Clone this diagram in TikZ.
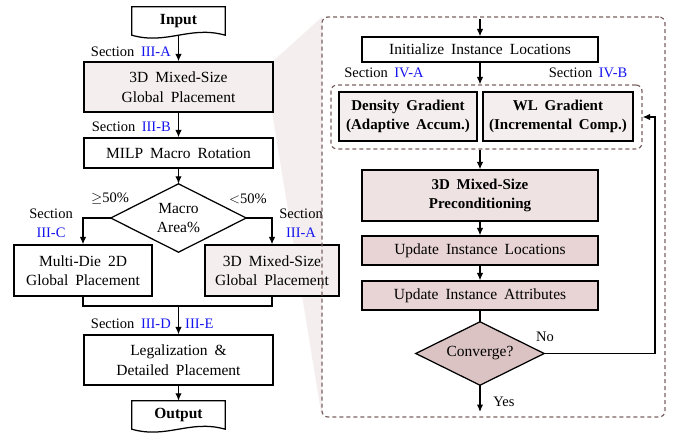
\documentclass[tikz,border=0pt]{standalone}
\usepackage{fontspec}
\setmainfont{Liberation Serif}[WordSpace=1.8]
\usetikzlibrary{arrows.meta,calc}
\definecolor{pkA}{HTML}{F4EEEE}
\definecolor{pkB}{HTML}{EEE2E2}
\definecolor{pkC}{HTML}{E8D4D4}
\definecolor{pkD}{HTML}{DBC3C3}
\definecolor{dashc}{HTML}{7B6262}
\definecolor{secb}{HTML}{1414F0}
\newcommand{\sref}[1]{\textcolor{secb}{#1}}
\begin{document}
\begin{tikzpicture}[x=1pt,y=-1pt,
  font=\fontsize{15.5}{19.5}\selectfont,
  box/.style={draw,line width=1.25pt,align=center,inner sep=0pt},
  bf/.style={font=\fontsize{15}{19.5}\selectfont\bfseries},
  lbl/.style={font=\fontsize{14.5}{19}\selectfont,inner sep=0pt,align=center},
  arr/.style={line width=1.25pt,-{Latex[length=7.5pt,width=6.5pt]}},
  ln/.style={line width=1.25pt},
  dbox/.style={draw=dashc,line width=1.2pt,dash pattern=on 4pt off 3pt,rounded corners=6pt,inner sep=0pt}]
\useasboundingbox (0,0) rectangle (678,437);
% zoom shading
\fill[pkA] (272,62) -- (322,17) -- (322,418) -- (272,112) -- cycle;

% ---------- left flow ----------
\node[minimum width=93pt,minimum height=28pt,inner sep=0pt,font=\fontsize{15.5}{19.5}\selectfont\bfseries] (in) at (178.5,21) {Input};
\draw[ln] (in.north west) -- (in.north east) -- (in.south east)
  .. controls +(-35,-10) and +(35,10) .. (in.south west) -- cycle;
\node[box,fill=pkA,minimum width=189pt,minimum height=50pt] (gp1) at (178.5,87) {3D Mixed-Size\\Global Placement};
\node[box,minimum width=189pt,minimum height=30pt] (milp) at (178.5,153) {MILP Macro Rotation};
\node[minimum width=135pt,minimum height=68pt,inner sep=0pt,align=center] (macro) at (178.5,218) {Macro\\Area\%};
\draw[ln] (macro.north) -- (macro.east) -- (macro.south) -- (macro.west) -- cycle;
\node[box,minimum width=138pt,minimum height=51pt] (mdie) at (83,270.5) {Multi-Die 2D\\Global Placement};
\node[box,fill=pkA,minimum width=134pt,minimum height=51pt] (gp2) at (272,270.5) {3D Mixed-Size\\Global Placement};
\node[box,minimum width=189pt,minimum height=50pt] (leg) at (178.5,360) {Legalization \&\\Detailed Placement};
\node[minimum width=93pt,minimum height=28pt,inner sep=0pt,font=\fontsize{15.5}{19.5}\selectfont\bfseries] (out) at (178.5,415) {Output};
\draw[ln] (out.north west) -- (out.north east) -- (out.south east)
  .. controls +(-35,-10) and +(35,10) .. (out.south west) -- cycle;
\coordinate (m) at (178.5,306);

\draw[arr] (in.south) -- (gp1.north);
\draw[arr] (gp1.south) -- (milp.north);
\draw[arr] (milp.south) -- (macro.north);
\draw[arr] (macro.west) -| (mdie.north);
\draw[arr] (macro.east) -| (gp2.north);
\draw[ln] (mdie.south) |- (m) -| (gp2.south);
\draw[arr] (m) -- (leg.north);
\draw[arr] (leg.south) -- (out.north);

\node[lbl,anchor=east] (l1) at (171,52) {Section \sref{III-A}};
\node[lbl,anchor=east] (l2) at (171,127) {Section \sref{III-B}};
\node[lbl] (l3) at (110,199) {$\geq$50\%};
\node[lbl] (l4) at (248,199) {$<$50\%};
\node[lbl] (l5) at (51,223) {Section\\\sref{III-C}};
\node[lbl] (l6) at (301,223) {Section\\\sref{III-A}};
\node[lbl,anchor=east] (l7) at (171,324) {Section \sref{III-D}};
\node[lbl,anchor=west] (l8) at (185,324) {\sref{III-E}};

% ---------- right panel ----------
\node[dbox,minimum width=343pt,minimum height=400pt] (panel) at (493.5,217) {};
\coordinate (ptop) at (480,19);
\node[box,minimum width=236pt,minimum height=25pt] (init) at (480,49.5) {Initialize Instance Locations};
\node[dbox,minimum width=311pt,minimum height=64pt] (grad) at (486.5,117) {};
\node[box,fill=pkA,minimum width=138pt,minimum height=49pt,bf] (dens) at (408,116.5) {Density Gradient\\(Adaptive Accum.)};
\node[box,fill=pkA,minimum width=150pt,minimum height=49pt,bf] (wl) at (558,116.5) {WL Gradient\\(Incremental Comp.)};
\node[box,fill=pkB,minimum width=236pt,minimum height=51pt,bf] (prec) at (480,195.5) {3D Mixed-Size\\Preconditioning};
\node[box,fill=pkC,minimum width=236pt,minimum height=29pt] (upl) at (480,250.5) {Update Instance Locations};
\node[box,fill=pkC,minimum width=236pt,minimum height=29pt] (upa) at (480,295.5) {Update Instance Attributes};
\node[minimum width=128pt,minimum height=63pt,inner sep=0pt] (convbg) at (480,353.5) {};
\filldraw[ln,fill=pkD] (convbg.north) -- (convbg.east) -- (convbg.south) -- (convbg.west) -- cycle;
\node (conv) at (convbg.center) {Converge?};
\coordinate (nr) at (655,353.5);
\coordinate (yes) at (480,412);

\draw[arr] (ptop) -- (init.north);
\draw[arr] (init.south) -- (init.south |- grad.north);
\draw[arr] (init.south |- grad.south) -- (prec.north);
\draw[arr] (prec.south) -- (upl.north);
\draw[arr] (upl.south) -- (upa.north);
\draw[ln] (upa.south) -- (convbg.north);
\draw[arr] (convbg.east) -- (nr) |- (grad.east);
\draw[arr] (convbg.south) -- (yes);

\node[lbl] (s4a) at (384,73) {Section \sref{IV-A}};
\node[lbl] (s4b) at (588,73) {Section \sref{IV-B}};
\node[lbl] (no) at (545,337) {No};
\node[lbl] (ys) at (504,402) {Yes};
\end{tikzpicture}
\end{document}
